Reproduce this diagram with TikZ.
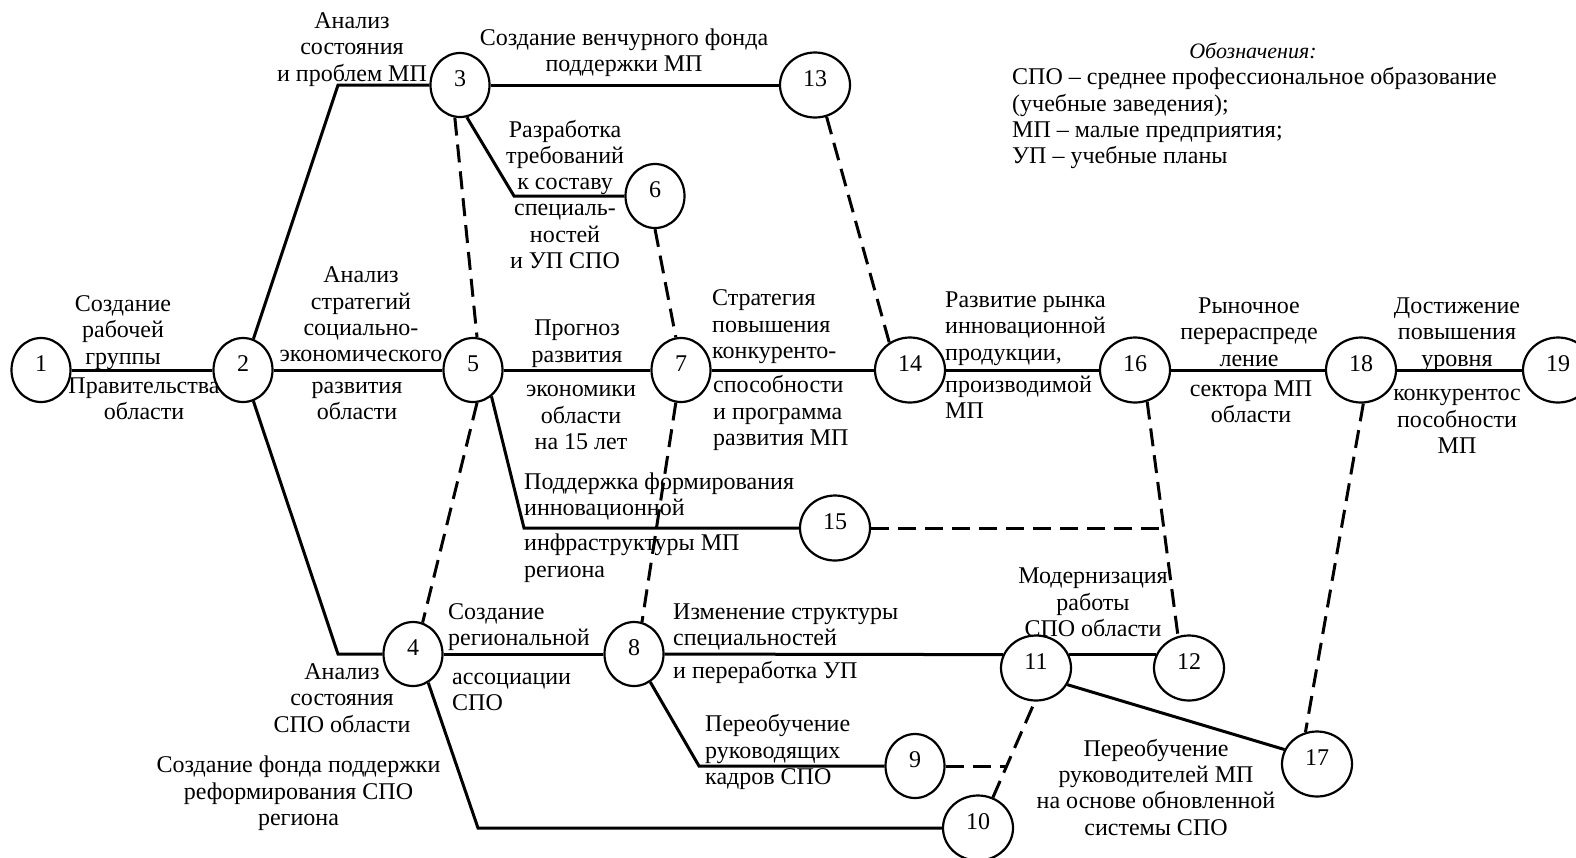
\documentclass[tikz,border=0pt]{standalone}
\usepackage{fontspec}
\setmainfont{Liberation Serif}
\usetikzlibrary{shapes.geometric}
\newcommand{\mystrut}{\vrule width0pt height18.4pt depth7.9pt}
\newcommand{\fsz}{\fontsize{24}{26.3}\selectfont}
\begin{document}
\begin{tikzpicture}[x=1pt,y=-1pt,
  ev/.style={ellipse,draw,line width=2.2pt,minimum width=59pt,minimum height=64pt,inner sep=0pt,text depth=12pt,font=\fsz},
  evw/.style={ev,minimum width=70pt,minimum height=65pt},
  lbl/.style={inner sep=0pt,align=center,font=\fsz,yshift=-3pt},
  lbll/.style={inner sep=0pt,align=left,font=\fsz,anchor=west,yshift=-3pt},
  con/.style={line width=3pt},
  dsh/.style={line width=3pt,dash pattern=on 18pt off 9pt}]
\useasboundingbox (0,0) rectangle (1576,857);

% events
\node[ev]  (n1)  at (41,370)   {1};
\node[ev]  (n2)  at (243,370)  {2};
\node[ev]  (n5)  at (473,370)  {5};
\node[ev]  (n7)  at (681,370)  {7};
\node[evw] (n14) at (910,370)  {14};
\node[evw] (n16) at (1135,370) {16};
\node[evw] (n18) at (1361,370) {18};
\node[evw] (n19) at (1558,370) {19};
\node[ev]  (n3)  at (460,85)   {3};
\node[evw] (n13) at (815,85)   {13};
\node[ev]  (n6)  at (655,196)  {6};
\node[evw] (n15) at (835,528)  {15};
\node[ev]  (n4)  at (413,654)  {4};
\node[ev]  (n8)  at (634,654)  {8};
\node[evw] (n11) at (1036,668) {11};
\node[evw] (n12) at (1189,668) {12};
\node[ev]  (n9)  at (915,766)  {9};
\node[evw] (n17) at (1317,764) {17};
\node[evw] (n10) at (978,828)  {10};

% bend points
\coordinate (c23)  at (338,85);
\coordinate (c24)  at (338,654);
\coordinate (c36)  at (514,196);
\coordinate (c515) at (524,528);
\coordinate (c410) at (478,828);
\coordinate (c89)  at (699,766);
\coordinate (q15)  at (1164,528);
\coordinate (q9)   at (1006,766);

% solid activities
\draw[con] (n1) -- (n2);
\draw[con] (n2) -- (n5);
\draw[con] (n5) -- (n7);
\draw[con] (n7) -- (n14);
\draw[con] (n14) -- (n16);
\draw[con] (n16) -- (n18);
\draw[con] (n18) -- (n19);
\draw[con] (n2) -- (c23) -- (n3);
\draw[con] (n3) -- (n13);
\draw[con] (n3.-78) -- (c36) -- (n6);
\draw[con] (n2) -- (c24) -- (n4);
\draw[con] (n4) -- (n8);
\draw[con] (n5.-55) -- (c515) -- (n15);
\draw[con] (n4.-62) -- (c410) -- (n10);
\draw[con] (n8) -- (n11.158);
\draw[con] (n11.22) -- (n12.158);
\draw[con] (n8) -- (c89) -- (n9);
\draw[con] (n11.-28) -- (n17.156);

% dummy activities
\draw[dsh] (n3.-99) -- (n5.83);
\draw[dsh] (n5.-83) -- (n4.73);
\draw[dsh] (n6.-90) -- (n7.99);
\draw[dsh] (n7.-99) -- (n8.76);
\draw[dsh] (n13.-70) -- (n14.127);
\draw[dsh] (n16.-69) -- (n12.109);
\draw[dsh] (n15) -- (q15);
\draw[dsh] (n18.-86) -- (n17.110);
\draw[dsh] (n10.64) -- (n11.-92);
\draw[dsh] (n9) -- (q9);

% labels
\node[lbl] (tA)  at (123,329.6) {\mystrut Создание\\рабочей\\группы\mystrut};
\node[lbl] (tA2) at (144,398)   {\mystrut Правительства\\области\mystrut};
\node[lbl] (tB)  at (361,314)   {\mystrut Анализ\\стратегий\\социально-\\экономического\mystrut};
\node[lbl] (tB2) at (357,398)   {\mystrut развития\\области\mystrut};
\node[lbl] (tC)  at (352,46.5)  {\mystrut Анализ\\состояния\\и проблем МП\mystrut};
\node[lbl] (tD)  at (624,50)    {\mystrut Создание венчурного фонда\\поддержки МП\mystrut};
\node[lbl] (tE)  at (565,194.5) {\mystrut Разработка\\требований\\к составу\\специаль-\\ностей\\и УП СПО\mystrut};
\node[lbl] (tF)  at (577,340.7) {\mystrut Прогноз\\развития\mystrut};
\node[lbl] (tF2) at (581,415)   {\mystrut экономики\\области\\на 15 лет\mystrut};
\node[lbll] (tG)  at (712,324)  {\mystrut Стратегия\\повышения\\конкуренто-\mystrut};
\node[lbll] (tG2) at (713,411)  {\mystrut способности\\и программа\\развития МП\mystrut};
\node[lbll] (tH)  at (945,325.6) {\mystrut Развитие рынка\\инновационной\\продукции,\mystrut};
\node[lbll] (tH2) at (945,397.5) {\mystrut производимой\\МП\mystrut};
\node[lbl] (tI)  at (1249,331.7) {\mystrut Рыночное\\перераспреде\\ление\mystrut};
\node[lbl] (tI2) at (1251,401)   {\mystrut сектора МП\\области\mystrut};
\node[lbl] (tJ)  at (1457,331.7) {\mystrut Достижение\\повышения\\уровня\mystrut};
\node[lbl] (tJ2) at (1457,419)   {\mystrut конкурентос\\пособности\\МП\mystrut};
\node[lbll] (tK)  at (524,494)   {\mystrut Поддержка формирования\\инновационной\mystrut};
\node[lbll] (tK2) at (524,555.8) {\mystrut инфраструктуры МП\\региона\mystrut};
\node[lbll] (tL)  at (448,624.5) {\mystrut Создание\\региональной\mystrut};
\node[lbll] (tL2) at (452,689.4) {\mystrut ассоциации\\СПО\mystrut};
\node[lbl] (tM)  at (342,697.5)  {\mystrut Анализ\\состояния\\СПО области\mystrut};
\node[lbl] (tN)  at (298.5,791)  {\mystrut Создание фонда поддержки\\реформирования СПО\\региона\mystrut};
\node[lbll] (tO)  at (673,624)   {\mystrut Изменение структуры\\специальностей\mystrut};
\node[lbll] (tO2) at (673,670)   {\mystrut и переработка УП\mystrut};
\node[lbll] (tP)  at (705,750)   {\mystrut Переобучение\\руководящих\\кадров СПО\mystrut};
\node[lbl] (tQ)  at (1093,602)   {\mystrut Модернизация\\работы\\СПО области\mystrut};
\node[lbl] (tR)  at (1156,787.4) {\mystrut Переобучение\\руководителей МП\\на основе обновленной\\системы СПО\mystrut};

% legend
\node[lbl,font=\fontsize{22}{26.3}\selectfont\itshape] (lgT) at (1253,50.3) {\mystrut Обозначения:\mystrut};
\node[lbll] (lgB) at (1012,116) {\mystrut СПО – среднее профессиональное образование\\(учебные заведения);\\МП – малые предприятия;\\УП – учебные планы\mystrut};
\end{tikzpicture}
\end{document}
